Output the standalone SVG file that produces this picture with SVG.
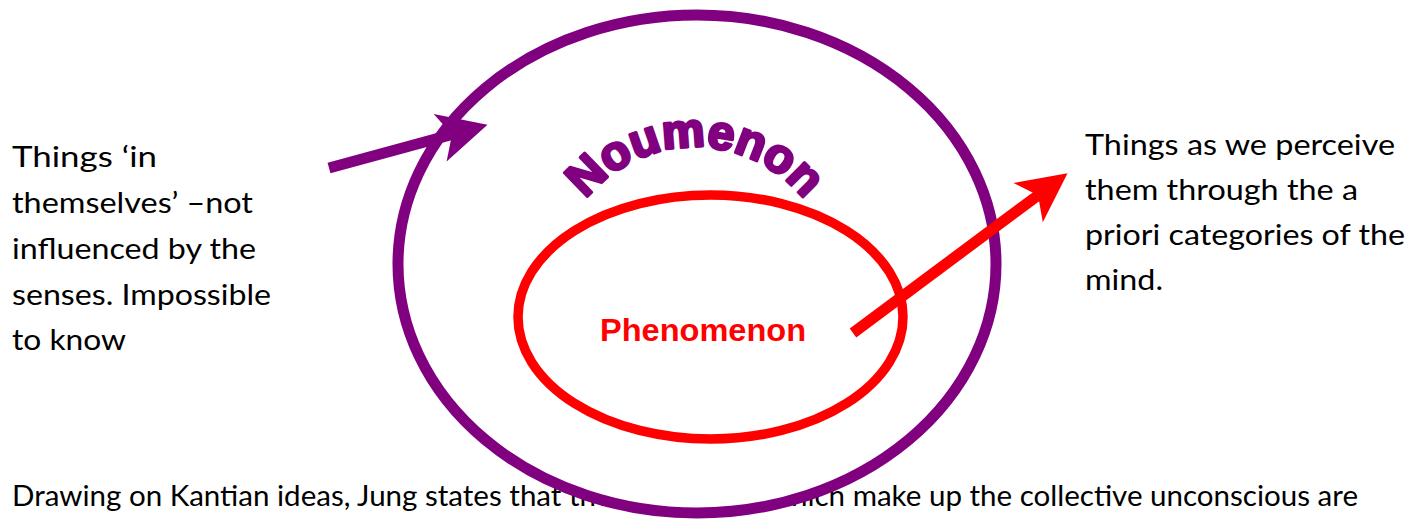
<svg xmlns="http://www.w3.org/2000/svg" width="1424" height="519" viewBox="0 0 1424 519">
<style>
.body{font-family:Lato,"Liberation Sans",sans-serif;font-size:29px;fill:#000}
.pur{stroke:#800080}
.red{stroke:#FF0000}
</style>
<defs>
<marker id="headP" markerUnits="userSpaceOnUse" markerWidth="60" markerHeight="60" viewBox="-12 -22 44 44" refX="0" refY="0" orient="auto">
<path d="M27,0 L-9,-18 L0,0 L-9,18 Z" fill="#800080"/>
</marker>
<marker id="headR" markerUnits="userSpaceOnUse" markerWidth="60" markerHeight="60" viewBox="-12 -22 44 44" refX="0" refY="0" orient="auto">
<path d="M27,0 L-9,-18 L0,0 L-9,18 Z" fill="#FF0000"/>
</marker>
<path id="arc" d="M553,292 A142,145 0 0 1 837,292"/>
</defs>
<rect width="1424" height="519" fill="#fff"/>
<text class="body" x="12" y="506" textLength="1346" lengthAdjust="spacingAndGlyphs">Drawing on Kantian ideas, Jung states that the archetypes which make up the collective unconscious are</text>
<g id="noumenon">
<ellipse cx="697" cy="264" rx="299" ry="249" fill="#fff" class="pur" stroke-width="11"/>
<text font-family="'Liberation Sans',Arial,sans-serif" font-weight="bold" font-size="48" fill="#800080" stroke="#800080" stroke-width="3" stroke-linejoin="round"><textPath href="#arc" startOffset="50%" text-anchor="middle">Noumenon</textPath></text>
</g>
<g id="phenomenon">
<ellipse cx="710.5" cy="317" rx="192.5" ry="122" fill="none" class="red" stroke-width="9.5"/>
<text x="600" y="341" font-family="'Liberation Sans',Arial,sans-serif" font-weight="bold" font-size="32" fill="#FF0000" textLength="206" lengthAdjust="spacingAndGlyphs">Phenomenon</text>
</g>
<g id="left-label">
<text class="body" x="12" y="167" textLength="145" lengthAdjust="spacingAndGlyphs">Things ‘in</text>
<text class="body" x="12" y="213" textLength="241" lengthAdjust="spacingAndGlyphs">themselves’ –not</text>
<text class="body" x="12" y="259" textLength="244" lengthAdjust="spacingAndGlyphs">influenced by the</text>
<text class="body" x="12" y="305" textLength="259" lengthAdjust="spacingAndGlyphs">senses. Impossible</text>
<text class="body" x="12" y="350" textLength="114" lengthAdjust="spacingAndGlyphs">to know</text>
</g>
<g id="right-label">
<text class="body" x="1085" y="155" textLength="310" lengthAdjust="spacingAndGlyphs">Things as we perceive</text>
<text class="body" x="1085" y="200" textLength="273" lengthAdjust="spacingAndGlyphs">them through the a</text>
<text class="body" x="1085" y="245" textLength="320" lengthAdjust="spacingAndGlyphs">priori categories of the</text>
<text class="body" x="1085" y="290" textLength="78" lengthAdjust="spacingAndGlyphs">mind.</text>
</g>
<g id="connectors" fill="none">
<line x1="329" y1="168" x2="452" y2="134.5" class="pur" stroke-width="11" marker-end="url(#headP)"/>
<line x1="853" y1="333" x2="1038" y2="195.3" class="red" stroke-width="11" marker-end="url(#headR)"/>
</g>
</svg>
